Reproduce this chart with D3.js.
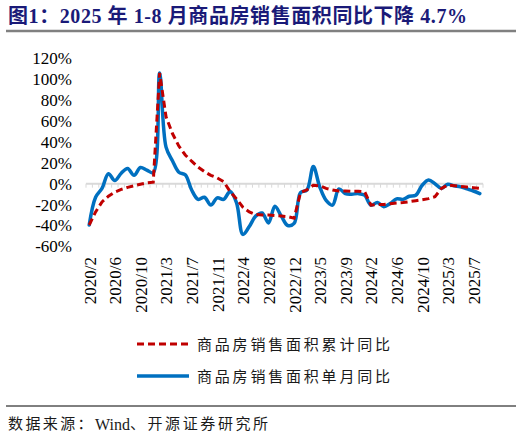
<!DOCTYPE html>
<html>
<head>
<meta charset="utf-8">
<script src="https://cdn.jsdelivr.net/npm/d3@7"></script>
<style>
  html, body { margin: 0; padding: 0; background: #fff; }
  svg { display: block; }
  .latin { font-family: "Liberation Serif", "Times New Roman", serif; }
  .cjk { font-family: "Liberation Serif", "Noto Sans CJK SC", serif; }
</style>
</head>
<body>
<svg id="chart" width="522" height="436"></svg>
<script>
// Categories (Jan is merged into Feb, so no "/1" months)
const months = [
  "2020/2","2020/3","2020/4","2020/5","2020/6","2020/7","2020/8","2020/9","2020/10","2020/11","2020/12",
  "2021/2","2021/3","2021/4","2021/5","2021/6","2021/7","2021/8","2021/9","2021/10","2021/11","2021/12",
  "2022/2","2022/3","2022/4","2022/5","2022/6","2022/7","2022/8","2022/9","2022/10","2022/11","2022/12",
  "2023/2","2023/3","2023/4","2023/5","2023/6","2023/7","2023/8","2023/9","2023/10","2023/11","2023/12",
  "2024/2","2024/3","2024/4","2024/5","2024/6","2024/7","2024/8","2024/9","2024/10","2024/11","2024/12",
  "2025/2","2025/3","2025/4","2025/5","2025/6","2025/7","2025/8"
];

const xTickLabels = ["2020/2","2020/6","2020/10","2021/3","2021/7","2021/11","2022/4","2022/8",
  "2022/12","2023/5","2023/9","2024/2","2024/6","2024/10","2025/3","2025/7"];

const yTicks = [-60, -40, -20, 0, 20, 40, 60, 80, 100, 120];

// 商品房销售面积累计同比 (%)
const cumulativeYoY = [
  -39.5, -27, -17.5, -12, -8, -5.5, -3.5, -2, -0.5, 0.8, 1.5,
  106, 64, 48, 36, 27.5, 21.5, 16, 11.5, 8, 5.5, 2,
  -7.5, -14.5, -22.5, -27, -29.5, -30, -30, -30.5, -31, -31.5, -33,
  -8.5, -6, -1.5, -2, -4.5, -6, -7, -7, -7.2, -7.2, -7.5,
  -20.5, -20, -19.8, -19.2, -18.5, -18, -17.2, -16.3, -15.3, -14.3, -12.5,
  -4.5, -1.3, -2, -2.6, -3.2, -3.8, -4.5
];

// 商品房销售面积单月同比 (%)
const monthlyYoY = [
  -39.5, -13, -4.5, 9.5, 3, 10, 14.5, 8, 15.5, 13, 10.5,
  106, 35, 22, 11, 8.5, -6, -15, -13, -20.5, -13.5, -15,
  -7.5, -18, -48.5, -41, -31, -28, -37.5, -21.5, -31, -40, -38,
  -8.5, -6, 16.5, -3, -16, -20.5, -5, -9.5, -10, -9.5, -11,
  -20.5, -18, -22, -19, -14.5, -15, -12, -11, -1.5, 3.5, 0,
  -4.5, -0.5, -2, -3, -5, -7, -9.5
];

const svg = d3.select("#chart");

const RED = "#c00000";
const BLUE = "#0070c0";

// --- scales ---
const x = d3.scalePoint().domain(months).range([86, 483]).padding(0.5);
const xBand = d3.scaleBand().domain(months).range([86, 483]);
const y = d3.scaleLinear().domain([-60, 120]).range([246.4, 58.3]);

// --- title ---
svg.append("text")
  .attr("class", "cjk")
  .attr("x", 8).attr("y", 23)
  .attr("textLength", 459).attr("lengthAdjust", "spacing")
  .style("font-size", "20px").style("font-weight", "bold")
  .style("fill", "#1a1a78")
  .text("图1：2025 年 1-8 月商品房销售面积同比下降 4.7%");

svg.append("line")
  .attr("x1", 6).attr("x2", 516).attr("y1", 31).attr("y2", 31)
  .attr("stroke", "#808080").attr("stroke-width", 2.5);

// --- y axis labels ---
const yAxis = svg.append("g")
  .attr("class", "latin")
  .attr("transform", "translate(72,0)")
  .call(d3.axisLeft(y).tickValues(yTicks).tickSize(0).tickPadding(0).tickFormat(d => d + "%"));
yAxis.select(".domain").remove();
yAxis.selectAll("text")
  .style("font-family", "'Liberation Serif', 'Times New Roman', serif")
  .style("font-size", "17px").style("fill", "#000");

// --- zero line with category ticks ---
const zeroY = y(0);
svg.append("line")
  .attr("x1", 86).attr("x2", 483).attr("y1", zeroY).attr("y2", zeroY)
  .attr("stroke", "#d9d9d9").attr("stroke-width", 2);
const boundaries = months.map(m => xBand(m)).concat([xBand.range()[1]]);
svg.append("g").selectAll("line")
  .data(boundaries)
  .join("line")
  .attr("x1", d => d).attr("x2", d => d)
  .attr("y1", zeroY).attr("y2", zeroY + 4)
  .attr("stroke", "#d9d9d9").attr("stroke-width", 1);

// --- x labels (rotated) ---
const xAxis = svg.append("g")
  .attr("transform", "translate(0,257)")
  .call(d3.axisBottom(x).tickValues(xTickLabels).tickSize(0).tickPadding(0));
xAxis.select(".domain").remove();
xAxis.selectAll("text")
  .style("font-family", "'Liberation Serif', 'Times New Roman', serif")
  .style("font-size", "17px").style("fill", "#000")
  .attr("text-anchor", "end")
  .attr("transform", "rotate(-90)")
  .attr("x", 0).attr("y", 0).attr("dy", "0.35em");

// --- series ---
const lineRed = d3.line()
  .x((d, i) => x(months[i]))
  .y(d => y(d));

const lineBlue = d3.line()
  .x((d, i) => x(months[i]))
  .y(d => y(d))
  .curve(d3.curveCatmullRom.alpha(0.5));

svg.append("path")
  .datum(monthlyYoY)
  .attr("d", lineBlue)
  .attr("fill", "none")
  .attr("stroke", BLUE).attr("stroke-width", 3.5)
  .attr("stroke-linejoin", "round").attr("stroke-linecap", "round");

svg.append("path")
  .datum(cumulativeYoY)
  .attr("d", lineRed)
  .attr("fill", "none")
  .attr("stroke", RED).attr("stroke-width", 3)
  .attr("stroke-dasharray", "7,4");

// --- legend ---
const legendItems = [
  { label: "商品房销售面积累计同比", color: RED, dash: "7,4", width: 3, y: 344 },
  { label: "商品房销售面积单月同比", color: BLUE, dash: null, width: 3.5, y: 376 }
];
const legend = svg.append("g");
legendItems.forEach(item => {
  legend.append("line")
    .attr("x1", 137).attr("x2", 189).attr("y1", item.y).attr("y2", item.y)
    .attr("stroke", item.color).attr("stroke-width", item.width)
    .attr("stroke-dasharray", item.dash);
  legend.append("text")
    .attr("class", "cjk")
    .attr("x", 197).attr("y", item.y + 1)
    .attr("dominant-baseline", "central")
    .attr("textLength", 193).attr("lengthAdjust", "spacing")
    .style("font-size", "15px").style("fill", "#1a1a1a")
    .text(item.label);
});

// --- footer ---
svg.append("line")
  .attr("x1", 6).attr("x2", 516).attr("y1", 406).attr("y2", 406)
  .attr("stroke", "#000").attr("stroke-width", 1);

// source line: CJK parts spaced out, "Wind" kept tight
const source = svg.append("text")
  .attr("class", "cjk")
  .attr("x", 8).attr("y", 424)
  .attr("dominant-baseline", "central")
  .style("font-size", "15px").style("fill", "#1a1a1a");
source.append("tspan").style("letter-spacing", "2.4px").text("数据来源：");
source.append("tspan").style("font-size", "16px").text("Wind");
source.append("tspan").style("letter-spacing", "2.6px").text("、开源证券研究所");
</script>
</body>
</html>
